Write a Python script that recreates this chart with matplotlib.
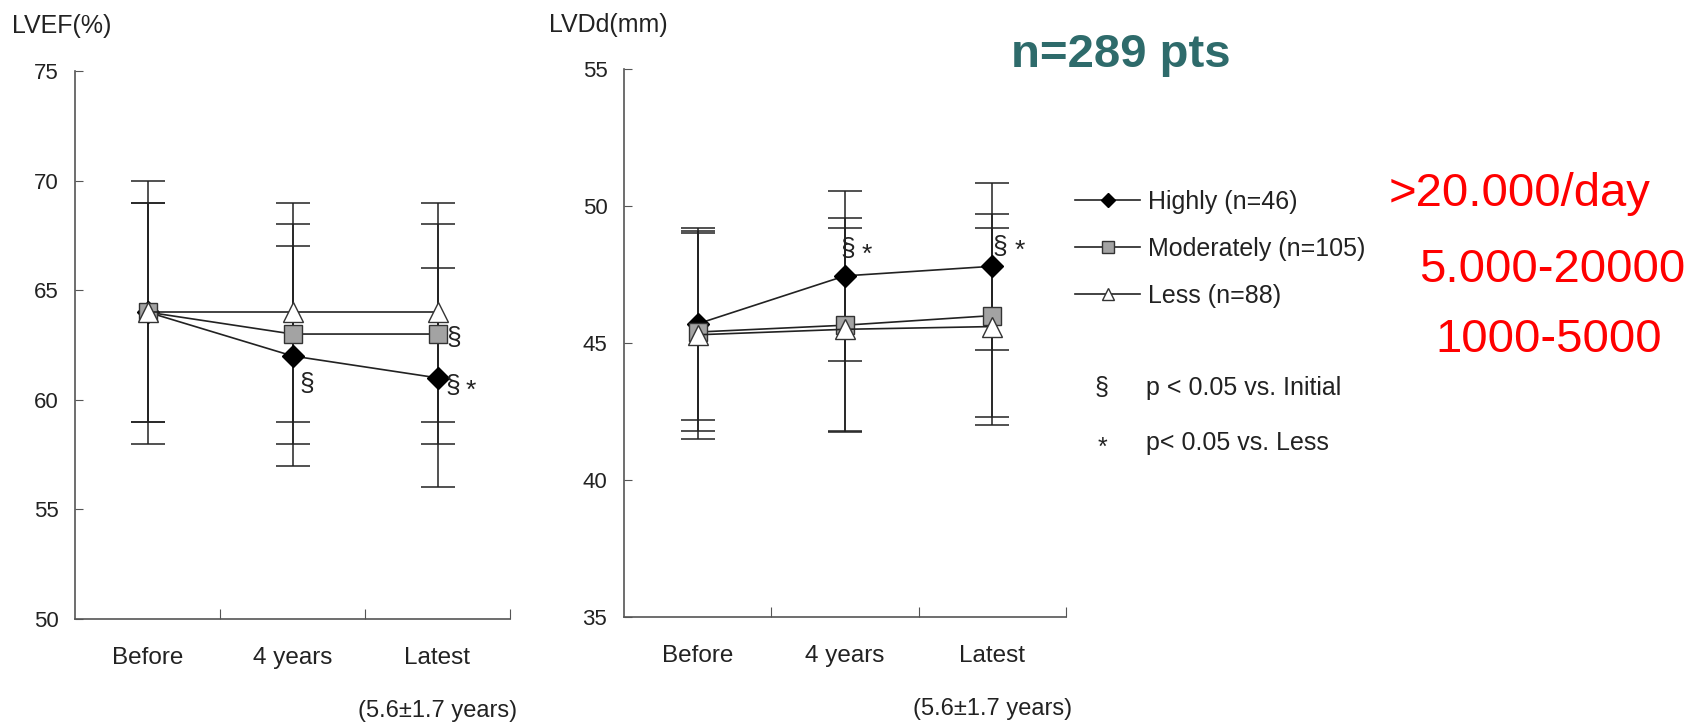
import numpy as np
import matplotlib
matplotlib.use("Agg")
import matplotlib.pyplot as plt
from matplotlib.lines import Line2D

plt.rcParams['font.family'] = ['Liberation Sans', 'DejaVu Sans']

# ---- data ----
categories = ['Before', '4 years', 'Latest']
groups = ['Highly (n=46)', 'Moderately (n=105)', 'Less (n=88)']

lvef_highly = [64, 62, 61]
lvef_highly_sd = [6, 5, 5]
lvef_moderately = [64, 63, 63]
lvef_moderately_sd = [5, 5, 5]
lvef_less = [64, 64, 64]
lvef_less_sd = [5, 5, 5]

lvdd_highly = [45.7, 47.45, 47.8]
lvdd_highly_sd = [3.5, 3.1, 3.05]
lvdd_moderately = [45.4, 45.65, 46.0]
lvdd_moderately_sd = [3.6, 3.9, 3.7]
lvdd_less = [45.3, 45.5, 45.6]
lvdd_less_sd = [3.8, 3.7, 3.6]

lvef_ticks = [50, 55, 60, 65, 70, 75]
lvdd_ticks = [35, 40, 45, 50, 55]

# significance marks: (group index, category index, text)
lvef_sig = [(0, 1, '§'), (1, 2, '§'), (0, 2, '§'), (0, 2, '*')]
lvdd_sig = [(0, 1, '§'), (0, 1, '*'), (0, 2, '§'), (0, 2, '*')]

side_notes = ['>20.000/day', '5.000-20000', '1000-5000']

# ---- styles ----
styles = [
    dict(marker='D', ms=11, mfc='black', mec='black'),
    dict(marker='s', ms=13, mfc='#a3a3a3', mec='#333333'),
    dict(marker='^', ms=14, mfc='white', mec='#333333'),
]
axis_col = '#555555'
text_col = '#222222'

fig = plt.figure(figsize=(17.03, 7.22), dpi=100)
ax1 = fig.add_axes([75 / 1703, 1 - 619 / 722, 435 / 1703, 548 / 722])
ax2 = fig.add_axes([624 / 1703, 1 - 617 / 722, 442 / 1703, 548 / 722])

x = np.arange(len(categories)) + 0.5


def draw_panel(ax, series, sds, yticks, sig, offsets):
    for i, (vals, sd) in enumerate(zip(series, sds)):
        ax.errorbar(x, vals, yerr=sd, fmt='none', ecolor='#222222',
                    elinewidth=1.1, capsize=12, capthick=1.1, zorder=2)
    for i, vals in enumerate(series):
        ax.plot(x, vals, color='#222222', lw=1.2, zorder=3 + i, **styles[i])
    for (g, c, t), (dx, dy) in zip(sig, offsets):
        ax.annotate(t, xy=(x[c], series[g][c]), xytext=(dx, dy),
                    textcoords='offset points', ha='center', va='center',
                    fontsize=19, color=text_col, zorder=10)

    ax.set_xlim(0, 3)
    ax.set_ylim(yticks[0], yticks[-1])
    ax.set_yticks(yticks)
    ax.set_xticks([1, 2, 3])
    ax.set_xticklabels([])
    ax.set_xticks(x, minor=True)
    ax.set_xticklabels(categories, minor=True)
    ax.tick_params(axis='x', which='major', direction='in', length=7,
                   color=axis_col)
    ax.tick_params(axis='x', which='minor', length=0, pad=20,
                   labelsize=17.5, labelcolor=text_col)
    ax.tick_params(axis='y', direction='in', length=6, pad=12,
                   labelsize=16, color=axis_col, labelcolor=text_col)
    for s in ['top', 'right']:
        ax.spines[s].set_visible(False)
    for s in ['left', 'bottom']:
        ax.spines[s].set_color(axis_col)
        ax.spines[s].set_linewidth(1.2)
    ax.annotate('(5.6±1.7 years)', xy=(x[2], 0), xycoords=ax.get_xaxis_transform(),
                xytext=(0, -66), textcoords='offset points', ha='center',
                va='center', fontsize=17, color=text_col)


draw_panel(ax1, [lvef_highly, lvef_moderately, lvef_less],
           [lvef_highly_sd, lvef_moderately_sd, lvef_less_sd], lvef_ticks,
           lvef_sig, [(10, -20), (11.5, -3), (11, -6), (24, -9)])
draw_panel(ax2, [lvdd_highly, lvdd_moderately, lvdd_less],
           [lvdd_highly_sd, lvdd_moderately_sd, lvdd_less_sd], lvdd_ticks,
           lvdd_sig, [(2, 19), (16, 15), (5.5, 14), (19.5, 11)])

fig.text(12 / 1703, 1 - 26 / 722, 'LVEF(%)', fontsize=18, color=text_col,
         ha='left', va='center')
fig.text(549 / 1703, 1 - 25 / 722, 'LVDd(mm)', fontsize=18, color=text_col,
         ha='left', va='center')

# legend
handles = []
for st in styles:
    h = dict(st)
    h['ms'] = h['ms'] * 0.65
    handles.append(Line2D([], [], color='#222222', lw=1.2, **h))
fig.legend(handles, groups, loc='upper left',
           bbox_to_anchor=(1075 / 1703, 1 - 190 / 722), frameon=False,
           fontsize=18, handlelength=2.6, handletextpad=0.3,
           labelspacing=0.92, borderpad=0, borderaxespad=0,
           labelcolor=text_col)

fig.text(1102 / 1703, 1 - 388 / 722, '§', fontsize=18, color=text_col,
         ha='center', va='center')
fig.text(1146 / 1703, 1 - 388 / 722, 'p < 0.05 vs. Initial', fontsize=18,
         color=text_col, ha='left', va='center')
fig.text(1102 / 1703, 1 - 448 / 722, '*', fontsize=18, color=text_col,
         ha='center', va='center')
fig.text(1146 / 1703, 1 - 443 / 722, 'p< 0.05 vs. Less', fontsize=18,
         color=text_col, ha='left', va='center')

fig.text(1121 / 1703, 1 - 67 / 722, 'n=289 pts', fontsize=34,
         fontweight='bold', color='#2e6b6b', ha='center', va='baseline')

for txt, cx, by in zip(side_notes, [1520, 1552, 1549], [206, 282, 352]):
    fig.text(cx / 1703, 1 - by / 722, txt, fontsize=34, color='#ff0000',
             ha='center', va='baseline')

fig.savefig('out.png', dpi=100)
